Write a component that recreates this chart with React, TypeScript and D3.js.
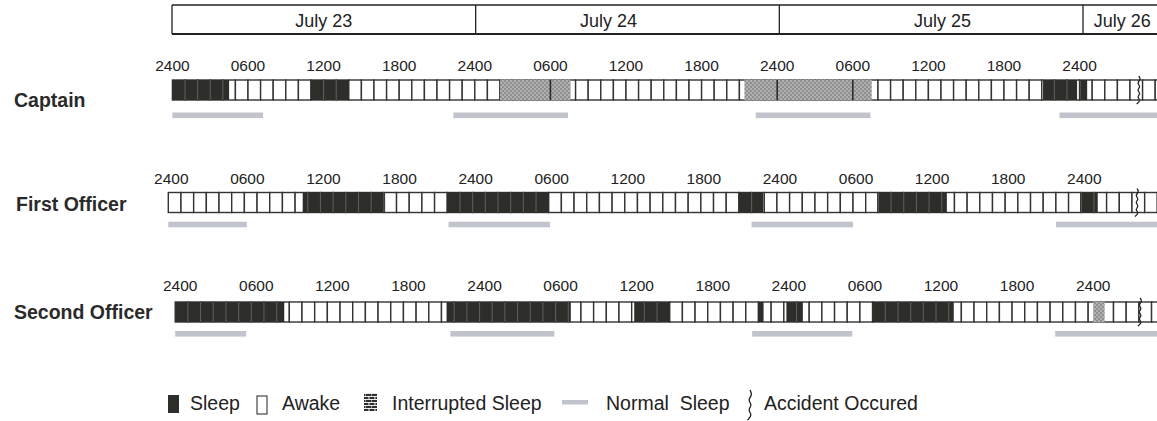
import * as d3 from "d3";

// chart size
const W = 1157;
const H = 421;

// header days + tick labels
const days = ["July 23", "July 24", "July 25", "July 26"];
const dayLabelHours = [12, 34.5, 60.9, 75.1];
const tickHours = d3.range(0, 73, 6);
const tickLabels = ["2400", "0600", "1200", "1800"];

// crew rows (hours counted from the first 2400 mark)
const crew = ["Captain", "First Officer", "Second Officer"];

const captainSleep = [[0, 4.5], [11, 14], [69.1, 71.8], [72.05, 72.6]];
const captainInterrupted = [[26, 31.6], [45.4, 55.5]];
const captainNormal = [[0, 7.2], [22.3, 31.4], [46.3, 55.4], [70.4, 80]];
const captainAccident = 76.7;

const firstSleep = [[10.6, 17.1], [22, 30], [45, 46.9], [55.9, 61.4], [71.9, 73.3]];
const firstInterrupted: number[][] = [];
const firstNormal = [[0, 6.2], [22.1, 30.1], [46, 54], [70, 80]];
const firstAccident = 76.4;

const secondSleep = [[0, 8.6], [21.4, 31.2], [36.2, 39], [46, 46.4], [48.2, 49.5], [55, 61.4]];
const secondInterrupted = [[72.4, 73.3]];
const secondNormal = [[0, 5.6], [21.7, 29.9], [45.5, 53.4], [69.4, 80]];
const secondAccident = 76.1;

const sleepData = [captainSleep, firstSleep, secondSleep];
const interruptedData = [captainInterrupted, firstInterrupted, secondInterrupted];
const normalData = [captainNormal, firstNormal, secondNormal];
const accidentData = [captainAccident, firstAccident, secondAccident];

// layout for each row (positions only)
const rowLayout = [
  { x0: 172.4, hw: 12.6, tickY: 71, tickDx: 0, cellY: 80, barY: 112.5, nameX: 14, nameY: 107 },
  { x0: 168.3, hw: 12.68, tickY: 183.5, tickDx: 3, cellY: 192.5, barY: 221.7, nameX: 16, nameY: 211 },
  { x0: 175.2, hw: 12.68, tickY: 291, tickDx: 5, cellY: 302, barY: 331, nameX: 14, nameY: 319 },
];

const HOURS = 80;
const CELL_H = 20;
const FONT = "'Liberation Sans', Arial, Helvetica, sans-serif";
const SLEEP = "#2d2e29";
const GRID = "#333";
const NORMAL = "#c1c4cc";

const zig = (cx: number, y0: number, y1: number, amp: number, step: number) => {
  const pts: [number, number][] = [];
  let i = 0;
  for (let y = y0; y <= y1 + 0.01; y += step) {
    pts.push([cx + (i % 2 === 0 ? -amp : amp) * (i === 0 ? 0 : 1), y]);
    i++;
  }
  return d3.line().curve(d3.curveBasis)(pts) ?? "";
};

function Row({ idx }: { idx: number }) {
  const L = rowLayout[idx];
  const x = d3.scaleLinear().domain([0, HOURS]).range([L.x0, L.x0 + HOURS * L.hw]);
  const sleep = sleepData[idx];
  const inter = interruptedData[idx];
  const cells = d3.range(0, HOURS);
  const yTop = L.cellY;
  const yBot = L.cellY + CELL_H;
  const acc = x(accidentData[idx]);

  return (
    <g>
      <text x={L.nameX} y={L.nameY} fontFamily={FONT} fontWeight="bold" fontSize={19.5} fill="#2a2a2a">
        {crew[idx]}
      </text>
      {tickHours.map((h, i) => (
        <text
          key={h}
          x={x(h) + L.tickDx}
          y={L.tickY}
          textAnchor="middle"
          fontFamily={FONT}
          fontSize={15.5}
          fill="#222"
        >
          {tickLabels[i % 4]}
        </text>
      ))}
      {cells.map((h) => (
        <rect key={h} x={x(h)} y={yTop} width={L.hw} height={CELL_H} fill="#fff" stroke={GRID} strokeWidth={1.4} />
      ))}
      {sleep.map(([a, b], i) => (
        <rect key={"s" + i} x={x(a)} y={yTop} width={x(b) - x(a)} height={CELL_H} fill={SLEEP} />
      ))}
      {sleep.map(([a, b], i) =>
        d3
          .range(Math.ceil(a + 0.05), b - 0.05, 1)
          .map((h) => (
            <line key={"sl" + i + "-" + h} x1={x(h)} x2={x(h)} y1={yTop} y2={yBot} stroke="#5c5c5c" strokeWidth={1.1} />
          ))
      )}
      {inter.map(([a, b], i) => (
        <rect key={"i" + i} x={x(a)} y={yTop - 0.5} width={x(b) - x(a)} height={CELL_H + 1} fill="url(#chk)" />
      ))}
      {inter.map(([a, b], i) =>
        tickHours
          .filter((h) => h > a && h < b)
          .map((h) => (
            <line key={"il" + i + "-" + h} x1={x(h)} x2={x(h)} y1={yTop} y2={yBot} stroke="#2a2a2a" strokeWidth={1.6} />
          ))
      )}
      <path d={zig(acc, yTop - 4, yBot + 4, 2.2, 3.5)} fill="none" stroke="#222" strokeWidth={1.3} />
      {normalData[idx].map(([a, b], i) => (
        <rect key={"n" + i} x={x(a)} y={L.barY} width={x(b) - x(a)} height={5.6} fill={NORMAL} />
      ))}
    </g>
  );
}

export default function App() {
  const hx = d3.scaleLinear().domain([0, 72]).range([172, 1083]);
  const dayEdges = [0, 24, 48, 72];

  return (
    <svg width={W} height={H} style={{ position: "absolute", left: 0, top: 0, background: "#fff" }}>
      <defs>
        <pattern id="chk" width={4} height={4} patternUnits="userSpaceOnUse">
          <rect width={4} height={4} fill="#b0b0b0" />
          <rect width={2} height={2} fill="#8f8f8f" />
          <rect x={2} y={2} width={2} height={2} fill="#8f8f8f" />
        </pattern>
        <pattern id="brick" width={6} height={6} patternUnits="userSpaceOnUse">
          <rect width={6} height={6} fill="#2e2e2e" />
          <rect y={0} width={6} height={0.9} fill="#fff" />
          <rect y={3} width={6} height={0.9} fill="#fff" />
          <rect x={2.5} y={0} width={0.9} height={3} fill="#fff" />
          <rect x={5.5} y={3} width={0.9} height={3} fill="#fff" />
        </pattern>
      </defs>

      {/* date header */}
      <g>
        <line x1={hx(0)} x2={W + 5} y1={5} y2={5} stroke="#222" strokeWidth={1.5} />
        <line x1={hx(0)} x2={W + 5} y1={34} y2={34} stroke="#222" strokeWidth={2} />
        {dayEdges.map((h) => (
          <line key={h} x1={hx(h)} x2={hx(h)} y1={5} y2={34} stroke="#222" strokeWidth={1.3} />
        ))}
        {days.map((d, i) => (
          <text key={d} x={hx(dayLabelHours[i])} y={26.5} textAnchor="middle" fontFamily={FONT} fontSize={18} fill="#222">
            {d}
          </text>
        ))}
      </g>

      {crew.map((_, i) => (
        <Row key={i} idx={i} />
      ))}

      {/* legend */}
      <g fontFamily={FONT} fontSize={19.5} fill="#222">
        <rect x={168} y={395} width={11} height={18} fill={SLEEP} />
        <text x={190} y={410}>Sleep</text>
        <rect x={257} y={396} width={10} height={18} fill="#fff" stroke="#333" strokeWidth={1.1} />
        <text x={282} y={410}>Awake</text>
        <rect x={364} y={393} width={13} height={18} fill="url(#brick)" />
        <text x={392} y={410}>Interrupted Sleep</text>
        <rect x={562} y={400} width={26} height={4.5} fill={NORMAL} />
        <text x={606} y={410} style={{ whiteSpace: "pre" }}>
          {"Normal  Sleep"}
        </text>
        <path d={zig(750, 390, 420, 2.5, 5)} fill="none" stroke="#222" strokeWidth={1.3} />
        <text x={764} y={410}>Accident Occured</text>
      </g>
    </svg>
  );
}
